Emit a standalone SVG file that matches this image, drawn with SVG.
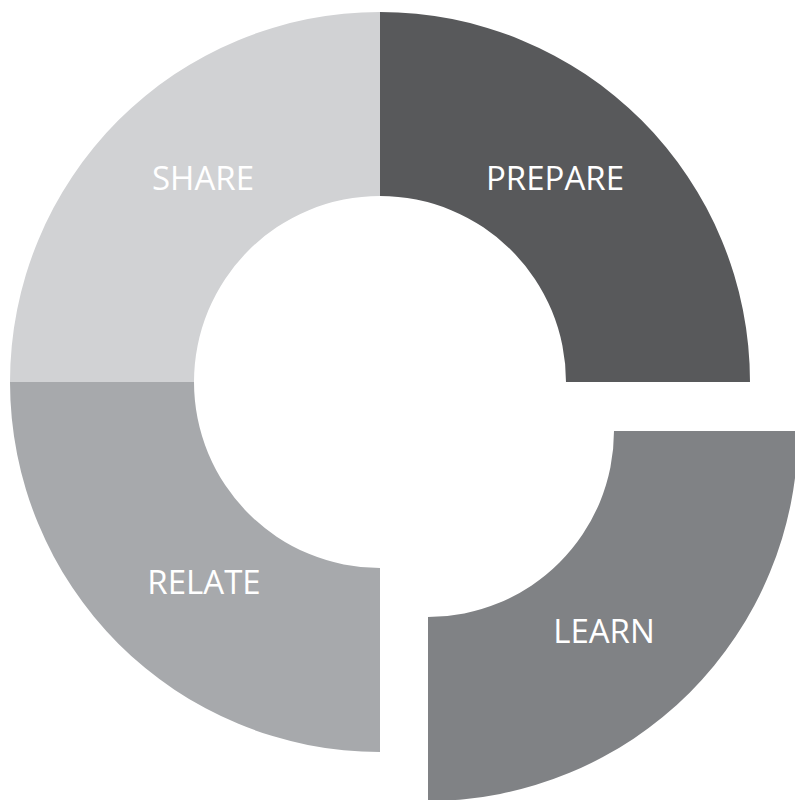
<svg xmlns="http://www.w3.org/2000/svg" width="795" height="800" viewBox="0 0 795 800">
<style>
.lbl{font-family:"Open Sans","Noto Sans","Liberation Sans",sans-serif;font-size:33px;fill:#ffffff;text-anchor:middle}
</style>
<rect width="795" height="800" fill="#ffffff"/>
<g id="share">
<path d="M380,12 A370,370 0 0 0 10,382 L194,382 A186,186 0 0 1 380,196 Z" fill="#d1d2d4"/>
<text class="lbl" x="203" y="190">SHARE</text>
</g>
<g id="prepare">
<path d="M380,12 A370,370 0 0 1 750,382 L566,382 A186,186 0 0 0 380,196 Z" fill="#58595b"/>
<text class="lbl" x="555" y="190">PREPARE</text>
</g>
<g id="relate">
<path d="M10,382 A370,370 0 0 0 380,752 L380,568 A186,186 0 0 1 194,382 Z" fill="#a7a9ac"/>
<text class="lbl" x="204" y="594">RELATE</text>
</g>
<g id="learn">
<path d="M798,431 A370,370 0 0 1 428,801 L428,617 A186,186 0 0 0 614,431 Z" fill="#808285"/>
<text class="lbl" x="604" y="643">LEARN</text>
</g>
<g id="connectors"></g>
</svg>
